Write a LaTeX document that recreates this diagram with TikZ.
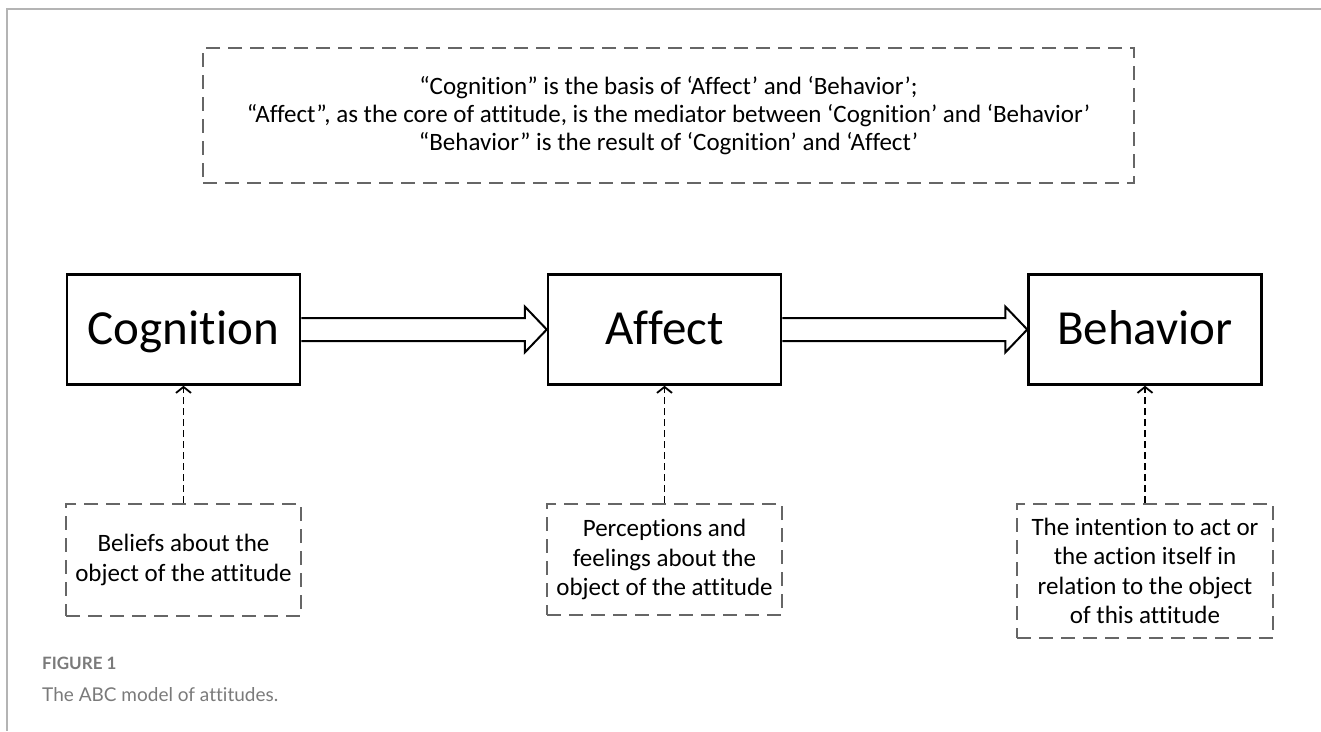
\documentclass[tikz,border=0pt]{standalone}
\usepackage{fontspec}
\setmainfont{Carlito}[Ligatures=NoCommon]
\newfontfamily\capfont{Lato}[Ligatures=NoCommon]
\usetikzlibrary{arrows.meta,calc}
\definecolor{boxgray}{HTML}{666666}
\definecolor{framegray}{HTML}{B4B4B4}
\definecolor{capgray}{HTML}{7A7A7A}

\begin{document}
\begin{tikzpicture}[x=1pt,y=-1pt,
        mainbox/.style={draw,line width=2.5pt,minimum width=233pt,minimum height=110pt,inner sep=0pt,text height=36pt,text depth=7pt,font=\fontsize{49}{58}\selectfont},
        notebox/.style={draw=boxgray,line width=1.8pt,dash pattern=on 14pt off 8pt,inner sep=0pt,align=center,font=\fontsize{25}{29.5}\selectfont},
        feed/.style={line width=1.8pt,dash pattern=on 7pt off 4pt,-{Straight Barb[length=6pt,width=15pt]}},
        blockarrow/.style={line width=2pt,line join=miter}]
        \useasboundingbox (0,0) rectangle (1321,731);
        \draw[framegray,line width=1.5pt] (1321,9) -- (7,9) -- (7,731);
        \draw
            (668.5, 115.5) node[notebox,minimum width=931pt,minimum height=135pt,font=\fontsize{25}{28}\selectfont] (top){“Cognition” is the basis of ‘Affect’ and ‘Behavior’;\\
                “Affect”, as the core of attitude, is the mediator between ‘Cognition’ and ‘Behavior’\\
                “Behavior” is the result of ‘Cognition’ and ‘Affect’}
            (183.5, 329.5) node[mainbox] (c){Cognition}
            (664.5, 329.5) node[mainbox] (a){Affect}
            (1145, 329.5) node[mainbox] (b){Behavior}
            (183.5, 560) node[notebox,minimum width=235pt,minimum height=112pt] (cn){Beliefs about the\\object of the attitude}
            (664.5, 559.5) node[notebox,minimum width=235pt,minimum height=111pt] (an){Perceptions and\\feelings about the\\object of the attitude}
            (1145, 571) node[notebox,minimum width=256pt,minimum height=134pt] (bn){The intention to act or\\the action itself in\\relation to the object\\of this attitude};
        \draw[blockarrow] (c.east) ++(0,-11.5) -- ($(a.west)+(-22,-11.5)$) -- ($(a.west)+(-22,-23)$) -- (a.west)
            -- ($(a.west)+(-22,23)$) -- ($(a.west)+(-22,11.5)$) -- ($(c.east)+(0,11.5)$);
        \draw[blockarrow] (a.east) ++(0,-11.5) -- ($(b.west)+(-22,-11.5)$) -- ($(b.west)+(-22,-23)$) -- (b.west)
            -- ($(b.west)+(-22,23)$) -- ($(b.west)+(-22,11.5)$) -- ($(a.east)+(0,11.5)$);
        \begin{scope}[feed]
            \draw (cn) -- (c);
            \draw (an) -- (a);
            \draw (bn) -- (b);
        \end{scope}
        \node[anchor=west,text=capgray,inner sep=0pt,font=\capfont\bfseries\fontsize{17}{20}\selectfont] (fig) at (42,663) {FIGURE 1};
        \node[anchor=west,text=capgray,inner sep=0pt,font=\capfont\fontsize{19}{23}\selectfont] (cap) at (42,695) {The ABC model of attitudes.};
\end{tikzpicture}
\end{document}
